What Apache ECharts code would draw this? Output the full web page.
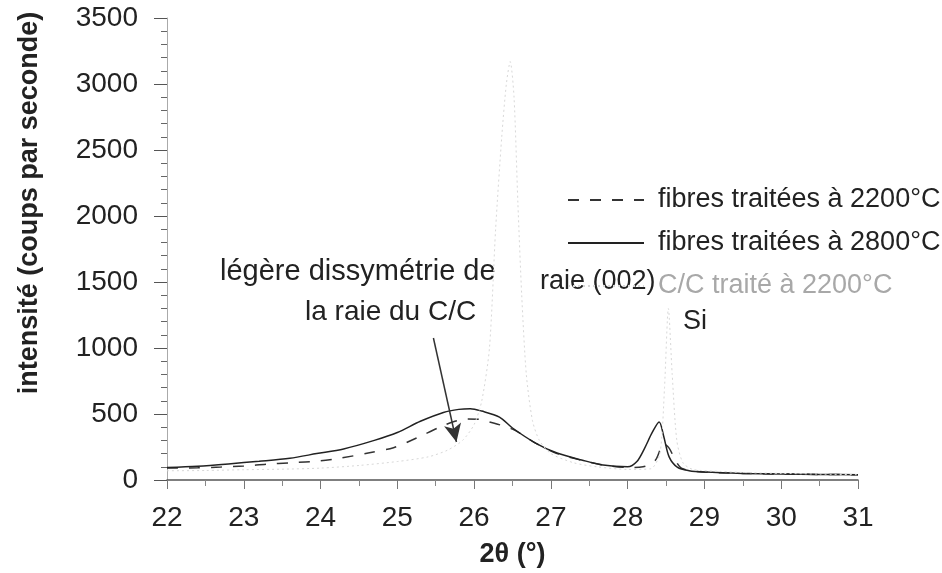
<!DOCTYPE html>
<html>
<head>
<meta charset="utf-8">
<script src="https://cdn.jsdelivr.net/npm/echarts@6/dist/echarts.min.js"></script>
<style>html,body{margin:0;padding:0;background:#fff;}#c{width:942px;height:573px;}</style>
</head>
<body>
<div id="c"></div>
<script>
// 2θ (°) and intensity (coups par seconde)
const fib2800X = [22.0, 22.4, 22.8, 23.2, 23.6, 23.95, 24.3, 24.7, 25.0, 25.3, 25.6, 25.8, 25.95, 26.1, 26.33, 26.5, 26.8, 27.08, 27.4, 27.65, 28.0, 28.12, 28.22, 28.32, 28.41, 28.47, 28.54, 28.65, 28.8, 29.0, 29.5, 30.0, 30.5, 31.0];
const fib2800Y = [95, 105, 122, 142, 165, 200, 235, 300, 360, 445, 512, 535, 540, 522, 477, 394, 280, 204, 152, 116, 100, 140, 240, 360, 440, 330, 175, 95, 70, 60, 50, 45, 42, 40];

const fib2200X = [22.0, 22.4, 22.7, 23.0, 23.3, 23.6, 24.0, 24.27, 24.62, 24.95, 25.25, 25.55, 25.75, 25.9, 26.05, 26.2, 26.5, 26.8, 27.08, 27.4, 27.7, 28.0, 28.2, 28.36, 28.47, 28.54, 28.62, 28.7, 28.9, 29.2, 29.5, 30.0, 30.5, 31.0];
const fib2200Y = [90, 92, 98, 106, 120, 130, 145, 167, 204, 245, 318, 400, 445, 462, 460, 440, 385, 280, 200, 150, 112, 95, 100, 150, 275, 242, 150, 90, 65, 55, 50, 45, 42, 40];

const ccX = [22.0, 22.5, 23.0, 23.5, 24.0, 24.5, 25.0, 25.4, 25.65, 25.85, 26.0, 26.1, 26.2, 26.28, 26.36, 26.42, 26.47, 26.52, 26.57, 26.62, 26.68, 26.76, 26.85, 27.0, 27.3, 27.6, 28.0, 28.3, 28.42, 28.48, 28.53, 28.58, 28.64, 28.72, 28.85, 29.2, 29.6, 30.0, 30.5, 31.0];
const ccY = [70, 72, 78, 82, 90, 110, 140, 175, 225, 300, 420, 600, 1000, 1900, 2600, 3000, 3170, 2900, 2100, 1400, 800, 450, 300, 200, 130, 100, 80, 85, 200, 700, 1300, 800, 300, 130, 80, 65, 55, 50, 45, 40];

const xTicks = [22, 23, 24, 25, 26, 27, 28, 29, 30, 31];
const yTicks = [0, 500, 1000, 1500, 2000, 2500, 3000, 3500];

const names = ['fibres traitées à 2200°C', 'fibres traitées à 2800°C', 'C/C traité à 2200°C'];
const arrowFrom = [25.47, 1076];
const arrowTo = [25.77, 288];

const zip = (xs, ys) => xs.map((x, i) => [x, ys[i]]);
const FONT = 'Liberation Sans, Arial, sans-serif';
const FS = 28;

const chart = echarts.init(document.getElementById('c'));
chart.setOption({
  animation: false,
  backgroundColor: '#fff',
  grid: { left: 167, right: 84, top: 18, bottom: 93, outerBoundsMode: 'none', containLabel: false },
  legend: {
    orient: 'vertical', left: 562, top: 180, itemWidth: 76, itemHeight: 14, itemGap: 13,
    itemStyle: { opacity: 0 },
    textStyle: { fontFamily: FONT, fontSize: 27, lineHeight: 30, color: '#222', padding: [0, 0, 0, 9] },
    data: [
      { name: names[0] },
      { name: names[1] },
      { name: names[2], textStyle: { color: '#a8a8a8' } }
    ]
  },
  xAxis: {
    type: 'value', min: xTicks[0], max: xTicks[xTicks.length - 1], interval: 1,
    name: '2θ (°)', nameLocation: 'middle', nameGap: 61,
    nameTextStyle: { fontFamily: FONT, fontSize: 27, fontWeight: 'bold', color: '#222' },
    axisLine: { lineStyle: { color: '#555', width: 1.5 } },
    axisTick: { length: 9, lineStyle: { color: '#777' } },
    minorTick: { show: true, splitNumber: 2, length: 6, lineStyle: { color: '#888' } },
    axisLabel: { fontFamily: FONT, fontSize: FS, color: '#222', margin: 24 },
    splitLine: { show: false }
  },
  yAxis: {
    type: 'value', min: yTicks[0], max: yTicks[yTicks.length - 1], interval: 500,
    axisLine: { show: true, lineStyle: { color: '#aaa', width: 1 } },
    axisTick: { show: true, length: 13, lineStyle: { color: '#555' } },
    minorTick: { show: true, splitNumber: 5, length: 6, lineStyle: { color: '#666' } },
    axisLabel: { fontFamily: FONT, fontSize: FS, color: '#222', margin: 29, formatter: v => String(v) },
    splitLine: { show: false }
  },
  graphic: [
    { type: 'text', x: 30, y: 203, rotation: Math.PI / 2, style: { text: 'intensité (coups par seconde)', fontFamily: FONT, fontSize: 27, fontWeight: 'bold', fill: '#222', textAlign: 'center', textVerticalAlign: 'middle' } },
    { type: 'text', x: 220, y: 272, style: { text: 'légère dissymétrie de', fontFamily: FONT, fontSize: 29, fill: '#222', textVerticalAlign: 'middle' } },
    { type: 'text', x: 305, y: 312, style: { text: 'la raie du C/C', fontFamily: FONT, fontSize: 28, fill: '#222', textVerticalAlign: 'middle' } },
    { type: 'text', x: 540, y: 282, style: { text: 'raie (002)', fontFamily: FONT, fontSize: 27, fill: '#222', textVerticalAlign: 'middle' } },
    { type: 'text', x: 683, y: 322, style: { text: 'Si', fontFamily: FONT, fontSize: 27, fill: '#222', textVerticalAlign: 'middle' } }
  ],
  series: [
    {
      name: names[0], type: 'line', data: zip(fib2200X, fib2200Y), symbol: 'none', smooth: 0.3,
      lineStyle: { color: '#333', width: 1.5, type: [11, 11] }, itemStyle: { color: '#333' }
    },
    {
      name: names[1], type: 'line', data: zip(fib2800X, fib2800Y), symbol: 'none', smooth: 0.3,
      lineStyle: { color: '#222', width: 1.5 }, itemStyle: { color: '#222' },
      markLine: {
        silent: true, symbol: ['none', 'arrow'], symbolSize: [13, 18],
        lineStyle: { color: '#333', width: 1.5, type: 'solid' }, label: { show: false },
        data: [[{ coord: arrowFrom }, { coord: arrowTo }]]
      }
    },
    {
      name: names[2], type: 'line', data: zip(ccX, ccY), symbol: 'none', smooth: 0.25,
      lineStyle: { color: '#d8d8d8', width: 1, type: [2, 3] }, itemStyle: { color: '#d8d8d8' }
    }
  ]
});
</script>
</body>
</html>
